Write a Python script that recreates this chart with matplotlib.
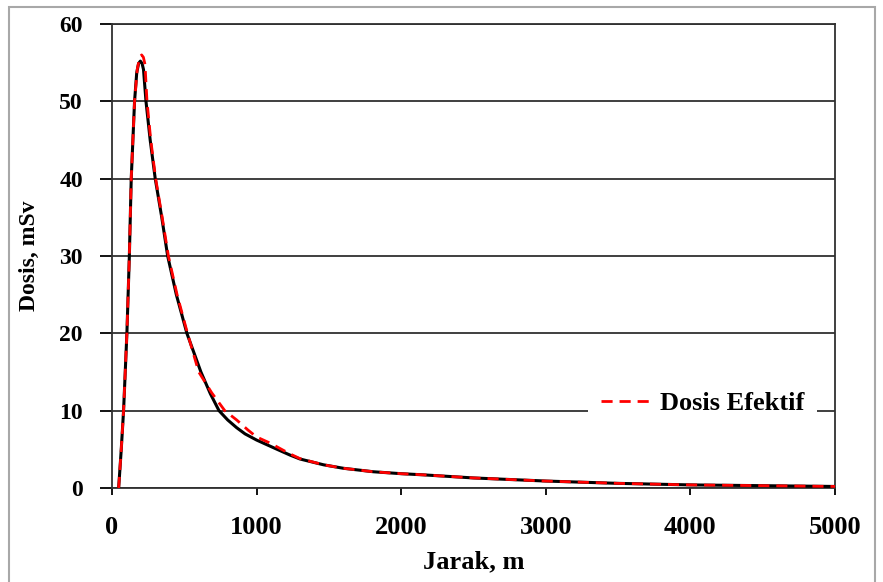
import numpy as np
import matplotlib.pyplot as plt
from matplotlib.patches import Rectangle

# data
jarak_hitam = [46, 64, 80, 103, 120, 133, 156, 171, 184, 196, 208, 218, 235, 264, 299, 344, 385,
               445, 518, 615, 680, 740, 800, 862, 920, 1000, 1130, 1232, 1300, 1463, 1600, 1808,
               2000, 2154, 2500, 3000, 3500, 4000, 4500, 5000]
dosis_hitam = [0, 5, 10, 20, 30, 40, 50, 53.7, 54.9, 55.2, 54.9, 54.1, 50, 45, 40, 35, 30,
               25, 20, 15, 12.2, 10, 8.8, 7.8, 7.0, 6.2, 5.1, 4.25, 3.75, 3.0, 2.55, 2.1,
               1.85, 1.7, 1.3, 0.9, 0.6, 0.4, 0.3, 0.2]

jarak_merah = [46, 64, 80, 103, 120, 133, 156, 175, 192, 205, 217, 228, 242, 268, 302, 347, 390,
               450, 522, 600, 690, 780, 862, 940, 1000, 1094, 1232, 1300, 1463, 1600, 1808,
               2000, 2154, 2500, 3000, 3500, 4000, 4500, 5000]
dosis_merah = [0, 5, 10, 20, 30, 40, 50, 54.2, 55.7, 56.0, 55.7, 54.8, 50, 45, 40, 35, 30,
               25, 20, 15, 12.3, 10, 8.8, 7.5, 6.6, 5.8, 4.4, 3.8, 3.0, 2.55, 2.1,
               1.85, 1.7, 1.3, 0.9, 0.6, 0.4, 0.3, 0.2]

xticks = [0, 1000, 2000, 3000, 4000, 5000]
yticks = [0, 10, 20, 30, 40, 50, 60]

plt.rcParams['font.family'] = ['Liberation Serif', 'DejaVu Serif']
plt.rcParams['font.weight'] = 'bold'

fig = plt.figure(figsize=(8.83, 5.82), dpi=100)
ax = fig.add_axes([112/883, 1-488/582, 723/883, 464/582])

# bingkai luar
fig.patches.append(Rectangle((9/883, -0.05), 866/883, 1-7/582+0.05, transform=fig.transFigure,
                             fill=False, edgecolor='#a8a8a8', linewidth=1.5))

ax.plot(jarak_hitam, dosis_hitam, color='black', linewidth=2.2, zorder=3)
ax.plot(jarak_merah, dosis_merah, color='red', linewidth=2, linestyle=(0, (4, 2.5)),
        label='Dosis Efektif', zorder=4)

ax.set_xlim(0, 5000)
ax.set_ylim(0, 60)
ax.set_xticks(xticks)
ax.set_yticks(yticks)
ax.grid(axis='y', color='#303030', linewidth=1.3)
ax.set_axisbelow(True)
for s in ax.spines.values():
    s.set_color('#303030')
    s.set_linewidth(1.3)

ax.tick_params(axis='x', direction='out', length=5, width=1.3, pad=15, labelsize=19)
ax.tick_params(axis='y', direction='out', length=9, width=1.3, pad=12, labelsize=17)
for lab in ax.get_xticklabels() + ax.get_yticklabels():
    lab.set_fontweight('bold')

ax.set_xlabel('Jarak, m', fontsize=19, fontweight='bold', labelpad=8)
ax.set_ylabel('Dosis, mSv', fontsize=17, fontweight='bold', labelpad=14)

leg = ax.legend(loc='center', bbox_to_anchor=(0.817, 0.182), frameon=True, fancybox=False,
                edgecolor='none', facecolor='white', framealpha=1, handlelength=1.9,
                handletextpad=0.3, borderpad=0.5, prop={'size': 19, 'weight': 'bold'})
leg.set_zorder(5)

fig.savefig('out.png', dpi=100)
